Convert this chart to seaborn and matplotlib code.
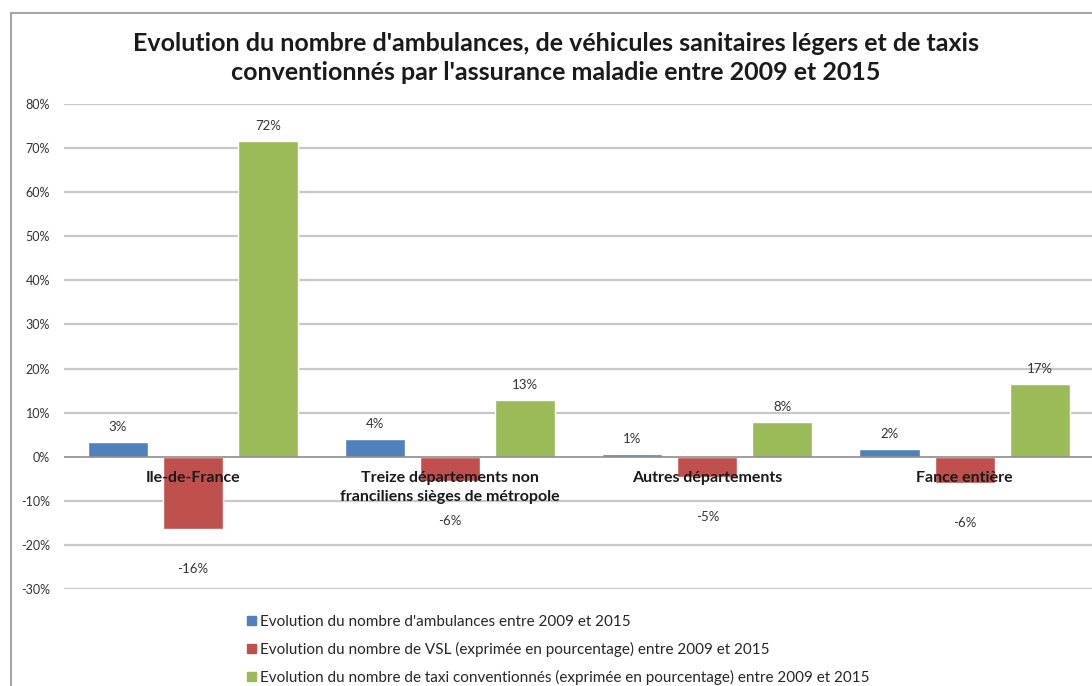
import matplotlib
matplotlib.use("Agg")
import matplotlib.pyplot as plt
import matplotlib.patches as mpatches
import seaborn as sns
import pandas as pd

# Regions compared
regions = [
    "Ile-de-France",
    "Treize départements non\nfranciliens sièges de métropole",
    "Autres départements",
    "Fance entière",
]

# Change 2009-2015, in percent
ambulances = [3.4, 4.1, 0.7, 1.8]
vsl = [-16.3, -5.6, -4.6, -5.9]
taxis = [71.6, 12.8, 7.8, 16.6]

series_names = [
    "Evolution du nombre d'ambulances entre 2009 et 2015",
    "Evolution du nombre de VSL (exprimée en pourcentage) entre 2009 et 2015",
    "Evolution du nombre de taxi conventionnés (exprimée en pourcentage) entre 2009 et 2015",
]
colors = ["#4F81BD", "#C0504D", "#9BBB59"]

title = ("Evolution du nombre d'ambulances, de véhicules sanitaires légers et de taxis\n"
         "conventionnés par l'assurance maladie entre 2009 et 2015")

yticks = [-30, -20, -10, 0, 10, 20, 30, 40, 50, 60, 70, 80]

rows = []
for name, values in zip(series_names, [ambulances, vsl, taxis]):
    for region, v in zip(regions, values):
        rows.append({"region": region, "serie": name, "valeur": v})
df = pd.DataFrame(rows)

sns.set_theme(style="white")
plt.rcParams["font.family"] = ["Lato", "DejaVu Sans"]

fig = plt.figure(figsize=(10.92, 6.86), dpi=100)
ax = fig.add_axes([0.059, 0.1414, 0.942, 0.707])

sns.barplot(data=df, x="region", y="valeur", hue="serie", hue_order=series_names,
            palette=colors, width=0.875, gap=0.2, saturation=1, errorbar=None,
            ax=ax, legend=False, zorder=3)

ax.set_ylim(-30, 80)
ax.set_xlim(-0.5, len(regions) - 0.5)
ax.set_yticks(yticks)
ax.set_yticklabels([f"{t}%" for t in yticks], fontsize=9, color="#333333")
ax.tick_params(axis="y", length=0, pad=10.5)
ax.set_xticks([])
ax.set_xlabel("")
ax.set_ylabel("")
for s in ax.spines.values():
    s.set_visible(False)

# horizontal gridlines, darker zero line
for t in yticks:
    if t == 0:
        ax.axhline(0, color="#8c8c8c", lw=1.2, zorder=4)
    else:
        ax.axhline(t, color="#c8c8c8", lw=1.6, zorder=1)

# value labels
for cont in ax.containers:
    for bar in cont:
        val = bar.get_y() + bar.get_height()
        x = bar.get_x() + bar.get_width() / 2
        dy = 15 if val >= 0 else -40
        ax.annotate(f"{round(val):d}%", (x, val), xytext=(0, dy),
                    textcoords="offset pixels", ha="center", va="center",
                    fontsize=9.5, color="#333333", zorder=6)

# category labels just under the zero line
for i, r in enumerate(regions):
    ax.annotate(r, (i, 0), xytext=(0, -14), textcoords="offset pixels",
                ha="center", va="top", fontsize=11.5, fontweight="bold",
                color="#1a1a1a", linespacing=1.5, zorder=7)

fig.text(0.509, 0.915, title, ha="center", va="center", fontsize=18,
         fontweight="bold", color="#1a1a1a", linespacing=1.32)

# legend
handles = [mpatches.Patch(color=c, label=n) for c, n in zip(colors, series_names)]
fig.legend(handles=handles, loc="upper left", bbox_to_anchor=(0.221, 0.113),
           frameon=False, fontsize=11, handlelength=0.55, handleheight=0.55,
           handletextpad=0.25, labelspacing=0.85, borderaxespad=0)

# chart frame
frame = mpatches.Rectangle((11 / 1092, -0.1), 1.2, 1.1 - 13 / 686,
                           transform=fig.transFigure, fill=False,
                           edgecolor="#a6a6a6", lw=1.5)
fig.add_artist(frame)

fig.savefig("out.png", dpi=100)
